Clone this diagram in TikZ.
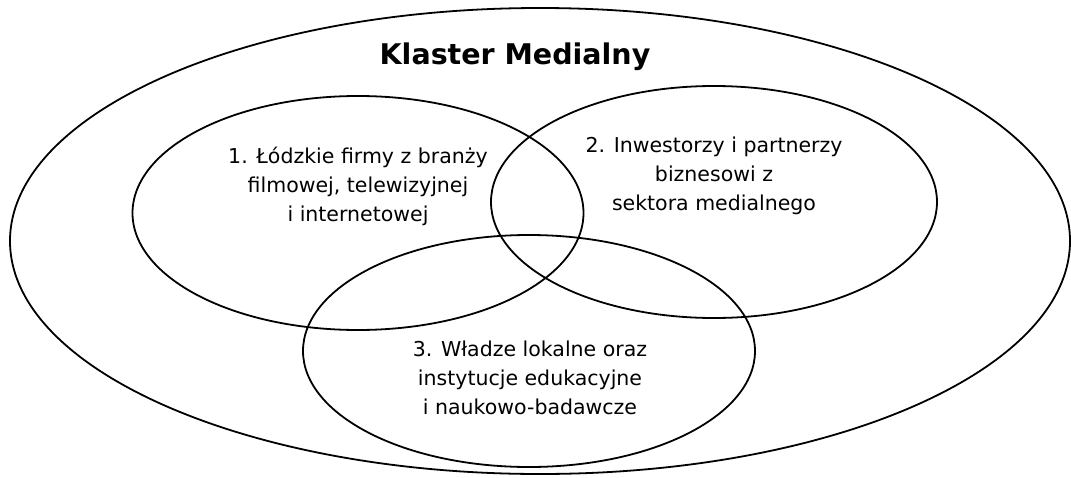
\documentclass[tikz,border=0pt]{standalone}
\usepackage{fontspec}
\setmainfont{DejaVu Sans}
\usetikzlibrary{shapes.geometric}
\begin{document}
\begin{tikzpicture}[x=1pt,y=-1pt,
  venn/.style={draw=black, line width=1.8pt, ellipse, inner sep=0pt, outer sep=0pt},
  lbl/.style={align=center, inner sep=0pt, font=\fontsize{20.5}{29}\selectfont},
  ttl/.style={anchor=base, inner sep=0pt, font=\fontsize{28.5}{34}\selectfont\bfseries}]
\useasboundingbox[fill=white] (0,0) rectangle (1071,477);
\node[venn, minimum width=1060pt, minimum height=466pt] (outer) at (540,241) {};
\node[venn, minimum width=451pt, minimum height=234pt] (e1) at (358,213) {};
\node[venn, minimum width=446pt, minimum height=232pt] (e2) at (714,202) {};
\node[venn, minimum width=452pt, minimum height=232pt] (e3) at (529,351) {};
\node[ttl] (title) at (515,64) {Klaster Medialny};
\node[lbl] (t1) at (358,186.6) {1. Łódzkie firmy z branży\\filmowej, telewizyjnej\\i internetowej};
\node[lbl] (t2) at (714,175.6) {2. Inwestorzy i partnerzy\\biznesowi z\\sektora medialnego};
\node[lbl] (t3) at (530,378.2) {3. Władze lokalne oraz\\instytucje edukacyjne\\i naukowo-badawcze};
\end{tikzpicture}
\end{document}
